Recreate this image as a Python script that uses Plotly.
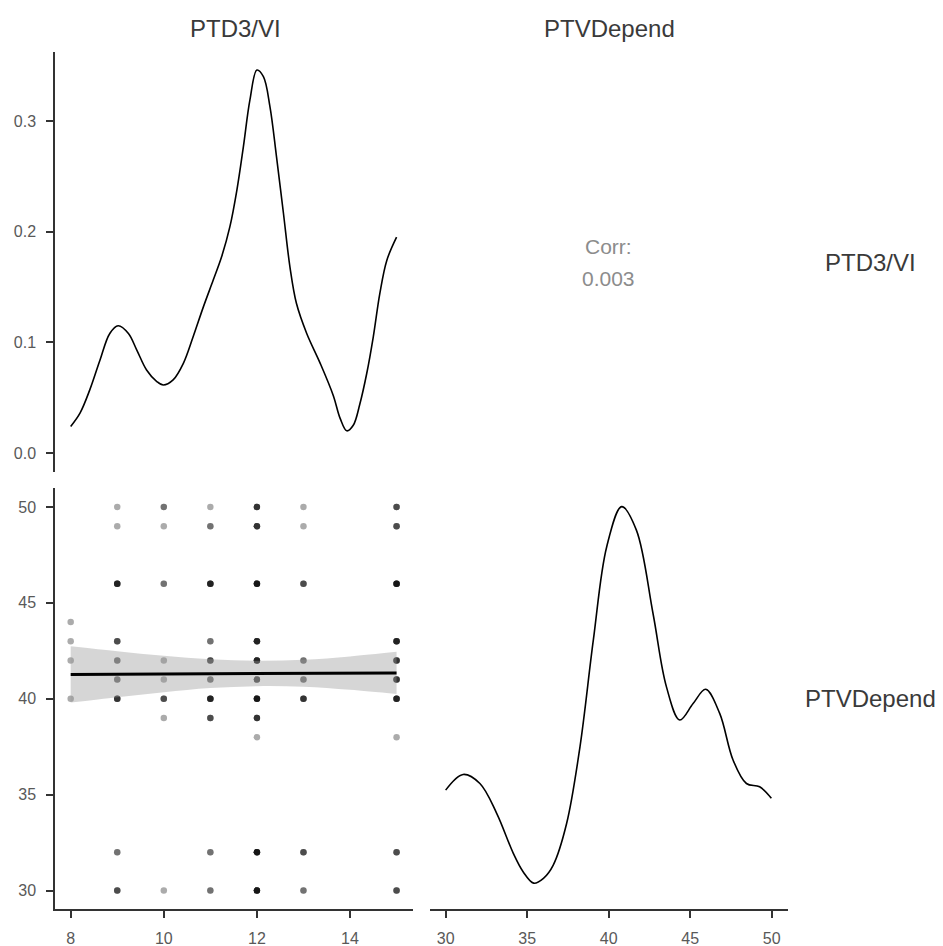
import plotly.graph_objects as go

# ---------------- data ----------------
# Density of PTD3/VI (top-left diagonal)
ptd3_x = [8.0, 8.2, 8.41, 8.63, 8.84, 9.02, 9.24, 9.42, 9.63, 9.85, 9.99, 10.2, 10.42, 10.63,
          10.85, 11.06, 11.24, 11.42, 11.57, 11.71, 11.85, 12.0, 12.14, 12.28, 12.42, 12.57,
          12.71, 12.85, 13.07, 13.36, 13.64, 13.79, 13.93, 14.07, 14.21, 14.36, 14.5, 14.64,
          14.79, 15.0]
ptd3_d = [0.024, 0.036, 0.057, 0.084, 0.108, 0.115, 0.108, 0.093, 0.075, 0.0645, 0.0614, 0.066,
          0.081, 0.105, 0.132, 0.156, 0.177, 0.2045, 0.2376, 0.2768, 0.319, 0.346, 0.340, 0.313,
          0.268, 0.2166, 0.168, 0.135, 0.108, 0.081, 0.052, 0.031, 0.020, 0.025, 0.044, 0.072,
          0.105, 0.144, 0.174, 0.195]

# Density of PTVDepend (bottom-right diagonal)
ptv_x = [30.0, 31.07, 32.1, 33.13, 34.15, 34.75, 35.4, 36.0, 36.6, 37.42, 38.24, 39.06, 39.88,
         40.8, 41.7, 42.72, 43.54, 44.36, 45.18, 45.95, 46.81, 47.63, 48.45, 49.26, 49.98]
ptv_d = [0.0359, 0.0411, 0.0381, 0.0282, 0.0149, 0.0088, 0.0050, 0.0066, 0.0110, 0.0248,
         0.0503, 0.0858, 0.1168, 0.1301, 0.1223, 0.0946, 0.0703, 0.0592, 0.0647, 0.0694,
         0.0614, 0.0459, 0.0381, 0.0370, 0.0332]

# Scatter: (PTD3/VI, PTVDepend, number of overlapping observations)
pts_x = [8, 8, 8, 8,
         9, 9, 9, 9, 9, 9, 9, 9, 9,
         10, 10, 10, 10, 10, 10, 10, 10,
         11, 11, 11, 11, 11, 11, 11, 11, 11, 11,
         12, 12, 12, 12, 12, 12, 12, 12, 12, 12, 12,
         13, 13, 13, 13, 13, 13, 13, 13,
         15, 15, 15, 15, 15, 15, 15, 15, 15, 15]
pts_y = [44, 43, 42, 40,
         50, 49, 46, 43, 42, 41, 40, 32, 30,
         50, 49, 46, 42, 41, 40, 39, 30,
         50, 49, 46, 43, 42, 41, 40, 39, 32, 30,
         50, 49, 46, 43, 42, 41, 40, 39, 38, 32, 30,
         50, 49, 46, 42, 41, 40, 32, 30,
         50, 49, 46, 43, 42, 41, 40, 38, 32, 30]
pts_n = [1, 1, 1, 1,
         1, 1, 5, 3, 2, 2, 4, 2, 3,
         2, 1, 2, 1, 1, 3, 1, 1,
         1, 2, 5, 2, 3, 2, 5, 3, 2, 2,
         4, 4, 6, 5, 5, 3, 6, 4, 1, 6, 6,
         1, 1, 3, 2, 2, 4, 3, 2,
         3, 3, 6, 5, 4, 4, 5, 1, 3, 3]

# Linear smooth (lm) with 95% band
smooth_x = [8, 9, 10, 11, 12, 13, 14, 15]
smooth_fit = [41.27, 41.28, 41.29, 41.31, 41.32, 41.33, 41.34, 41.35]
smooth_lo = [39.80, 40.08, 40.34, 40.56, 40.66, 40.63, 40.47, 40.25]
smooth_hi = [42.74, 42.48, 42.24, 42.06, 41.98, 42.03, 42.21, 42.45]

corr_label = "Corr:"
corr_value = "0.003"
var_names = ["PTD3/VI", "PTVDepend"]

# ---------------- figure ----------------
X, Y = [], []
for xv, yv, k in zip(pts_x, pts_y, pts_n):
    X += [xv] * k
    Y += [yv] * k

W, H = 943, 946
def px(v): return v / W
def py(v): return 1 - v / H

colL = [px(55), px(413)]
colR = [px(430), px(788)]
rowT = [py(472), py(52)]
rowB = [py(909), py(488)]

fig = go.Figure()
fig.add_trace(go.Scatter(x=ptd3_x, y=ptd3_d, mode="lines",
                         line=dict(color="black", width=1.6, shape="spline", smoothing=1.0),
                         xaxis="x", yaxis="y", showlegend=False, hoverinfo="skip"))
fig.add_trace(go.Scatter(x=X, y=Y, mode="markers",
                         marker=dict(color="black", size=6.5, opacity=0.33, line=dict(width=0)),
                         xaxis="x3", yaxis="y3", showlegend=False, hoverinfo="skip"))
fig.add_trace(go.Scatter(x=smooth_x, y=smooth_lo, mode="lines", line=dict(width=0, shape="spline"),
                         xaxis="x3", yaxis="y3", showlegend=False, hoverinfo="skip"))
fig.add_trace(go.Scatter(x=smooth_x, y=smooth_hi, mode="lines", line=dict(width=0, shape="spline"),
                         fill="tonexty", fillcolor="rgba(153,153,153,0.4)",
                         xaxis="x3", yaxis="y3", showlegend=False, hoverinfo="skip"))
fig.add_trace(go.Scatter(x=smooth_x, y=smooth_fit, mode="lines", line=dict(color="black", width=3),
                         xaxis="x3", yaxis="y3", showlegend=False, hoverinfo="skip"))
fig.add_trace(go.Scatter(x=ptv_x, y=ptv_d, mode="lines",
                         line=dict(color="black", width=1.6, shape="spline", smoothing=1.0),
                         xaxis="x4", yaxis="y4", showlegend=False, hoverinfo="skip"))

tickfont = dict(family="Liberation Sans, Arial, sans-serif", size=16, color="#595959")
axcommon = dict(showgrid=False, zeroline=False, tickfont=tickfont, ticks="outside", ticklen=7,
                tickwidth=1.5, tickcolor="#333333", linecolor="#333333", linewidth=1.5,
                ticklabelstandoff=7)
hidden = dict(visible=False, showgrid=False, zeroline=False)

fig.update_layout(
    width=W, height=H, margin=dict(l=0, r=0, t=0, b=0),
    paper_bgcolor="white", plot_bgcolor="white",
    xaxis=dict(domain=colL, anchor="y", range=[7.663, 15.353], **hidden),
    yaxis=dict(domain=rowT, anchor="x", range=[-0.0172, 0.3623], showline=True,
               tickvals=[0.0, 0.1, 0.2, 0.3], ticktext=["0.0", "0.1", "0.2", "0.3"], **axcommon),
    xaxis2=dict(domain=colR, anchor="y2", range=[0, 1], **hidden),
    yaxis2=dict(domain=rowT, anchor="x2", range=[0, 1], **hidden),
    xaxis3=dict(domain=colL, anchor="y3", range=[7.663, 15.353], showline=True,
                tickvals=[8, 10, 12, 14], **axcommon),
    yaxis3=dict(domain=rowB, anchor="x3", range=[29.04, 50.99], showline=True,
                tickvals=[30, 35, 40, 45, 50], **axcommon),
    xaxis4=dict(domain=colR, anchor="y4", range=[29.04, 51.0], showline=True,
                tickvals=[30, 35, 40, 45, 50], **axcommon),
    yaxis4=dict(domain=rowB, anchor="x4", range=[-0.0036, 0.1363], **hidden),
)

stripfont = dict(family="Liberation Sans, Arial, sans-serif", size=24, color="#3a3a3a")
corrfont = dict(family="Liberation Sans, Arial, sans-serif", size=21, color="#8c8c8c")
ann = [
    dict(x=px(235), y=py(28), text=var_names[0], font=stripfont),
    dict(x=px(609), y=py(28), text=var_names[1], font=stripfont),
    dict(x=px(870), y=py(262), text=var_names[0], font=stripfont),
    dict(x=px(870), y=py(698), text=var_names[1], font=stripfont),
    dict(x=px(608), y=py(247), text=corr_label, font=corrfont),
    dict(x=px(608), y=py(278), text=corr_value, font=corrfont),
]
for a in ann:
    a.update(xref="paper", yref="paper", showarrow=False, xanchor="center", yanchor="middle")
fig.update_layout(annotations=ann)

fig.write_html("out.html")
